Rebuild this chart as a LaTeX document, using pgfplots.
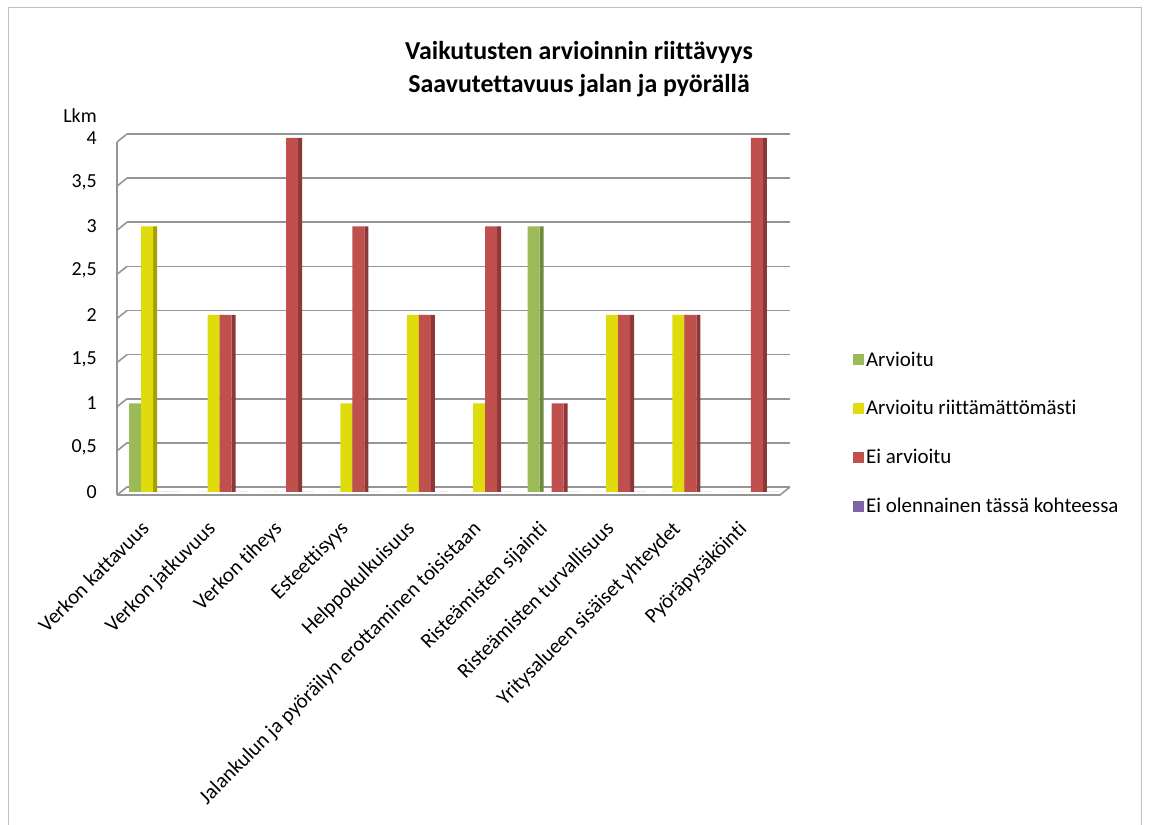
\documentclass[border=0pt]{standalone}
\usepackage{pgfplots}
\pgfplotsset{compat=1.18}
\usepackage{pgfplotstable}
\usepackage{fontspec}
\setmainfont{Carlito}[Ligatures=NoCommon]

\definecolor{cGreen}{HTML}{9BBB59}
\definecolor{cGreenD}{HTML}{71893F}
\definecolor{cYellow}{HTML}{DFDB0C}
\definecolor{cYellowD}{HTML}{A3A000}
\definecolor{cRed}{HTML}{C0504D}
\definecolor{cRedD}{HTML}{8C3836}
\definecolor{cPurple}{HTML}{8064A2}
\definecolor{cPurpleD}{HTML}{5E4A77}
\definecolor{wall}{HTML}{959595}

% counts per category: A = Arvioitu, B = Arvioitu riittamattomasti,
% C = Ei arvioitu, D = Ei olennainen tassa kohteessa
\pgfplotstableread{
x A B C D
0 1 3 0 0
1 0 2 2 0
2 0 0 4 0
3 0 1 3 0
4 0 2 2 0
5 0 1 3 0
6 3 0 1 0
7 0 2 2 0
8 0 2 2 0
9 0 0 4 0
}\counts

\pgfplotsset{
  sq legend/.style={legend image code/.code={\fill[##1] (0bp,-5.5bp) rectangle (11bp,5.5bp);}},
}

\begin{document}
\begin{tikzpicture}[x=1bp,y=1bp]
\useasboundingbox (0,0) rectangle (1149,825);
\draw[gray!50, line width=1bp] (8,0) -- (8,817) -- (1141,817) -- (1141,0);

% title and unit
\node[font=\bfseries\fontsize{26}{33}\selectfont, align=center] at (579,756)
  {Vaikutusten arvioinnin riittävyys\\Saavutettavuus jalan ja pyörällä};
\node[font=\fontsize{20}{24}\selectfont] at (80,709) {Lkm};

% back wall with gridlines
\begin{axis}[
  at={(127bp,338bp)}, anchor=south west, scale only axis,
  width=663bp, height=353bp,
  xmin=0, xmax=1, ymin=0, ymax=4,
  xtick=\empty, ytick={0,0.5,...,4}, yticklabels={},
  axis line style={draw=none}, major tick length=0pt,
  ymajorgrids, major grid style={wall, line width=1.6bp},
]
\addplot[draw=none] coordinates {(0,0)};
\end{axis}

% floor and side wall
\draw[wall, line width=1.6bp] (117,330) -- (780,330) -- (790,338);
\draw[wall, line width=1.6bp] (117,330) -- (117,683);
\foreach \k in {0,...,8}
  \draw[wall, line width=1.6bp] (117,330+44.125*\k) -- (127,338+44.125*\k);

% bars
\begin{axis}[
  at={(120bp,333bp)}, anchor=south west, scale only axis,
  width=664bp, height=354bp,
  xmin=-0.5, xmax=9.5, ymin=0, ymax=4,
  ybar, bar width=12bp, clip=false,
  axis line style={draw=none}, major tick length=0pt,
  ytick={0,0.5,...,4},
  /pgf/number format/use comma,
  /pgf/number format/assume math mode=true,
  yticklabel style={anchor=east, inner sep=0pt, xshift=-23bp,
    font=\fontsize{20}{24}\selectfont},
  xtick={0,...,9},
  xticklabels={Verkon kattavuus, Verkon jatkuvuus, Verkon tiheys,
    Esteettisyys, Helppokulkuisuus,
    Jalankulun ja pyöräilyn erottaminen toisistaan,
    Risteämisten sijainti, Risteämisten turvallisuus,
    Yritysalueen sisäiset yhteydet, Pyöräpysäköinti},
  xticklabel style={rotate=45, anchor=north east, inner sep=0pt,
    xshift=-29bp, yshift=-10bp, font=\fontsize{21}{24}\selectfont},
  legend style={at={(1.103,0.404)}, anchor=north west, draw=none,
    fill=none, inner sep=0pt, row sep=28bp,
    font=\fontsize{21}{24}\selectfont,
    nodes={inner sep=2.5bp}},
  legend cell align=left,
]
% side faces
\addplot[forget plot, fill=cGreenD, draw=none, bar width=4bp, bar shift=-10bp] table[x=x,y=A]{\counts};
\addplot[forget plot, fill=cYellowD, draw=none, bar width=4bp, bar shift=2bp] table[x=x,y=B]{\counts};
\addplot[forget plot, fill=cRedD, draw=none, bar width=4bp, bar shift=14bp] table[x=x,y=C]{\counts};
\addplot[forget plot, fill=cPurpleD, draw=none, bar width=4bp, bar shift=26bp] table[x=x,y=D]{\counts};
% front faces
\addplot[fill=cGreen, draw=none, bar shift=-18bp, sq legend] table[x=x,y=A]{\counts};
\addplot[fill=cYellow, draw=none, bar shift=-6bp, sq legend] table[x=x,y=B]{\counts};
\addplot[fill=cRed, draw=none, bar shift=6bp, sq legend] table[x=x,y=C]{\counts};
\addplot[fill=cPurple, draw=none, bar shift=18bp, sq legend] table[x=x,y=D]{\counts};
\legend{Arvioitu, Arvioitu riittämättömästi, Ei arvioitu, Ei olennainen tässä kohteessa}
\end{axis}
\end{tikzpicture}
\end{document}
